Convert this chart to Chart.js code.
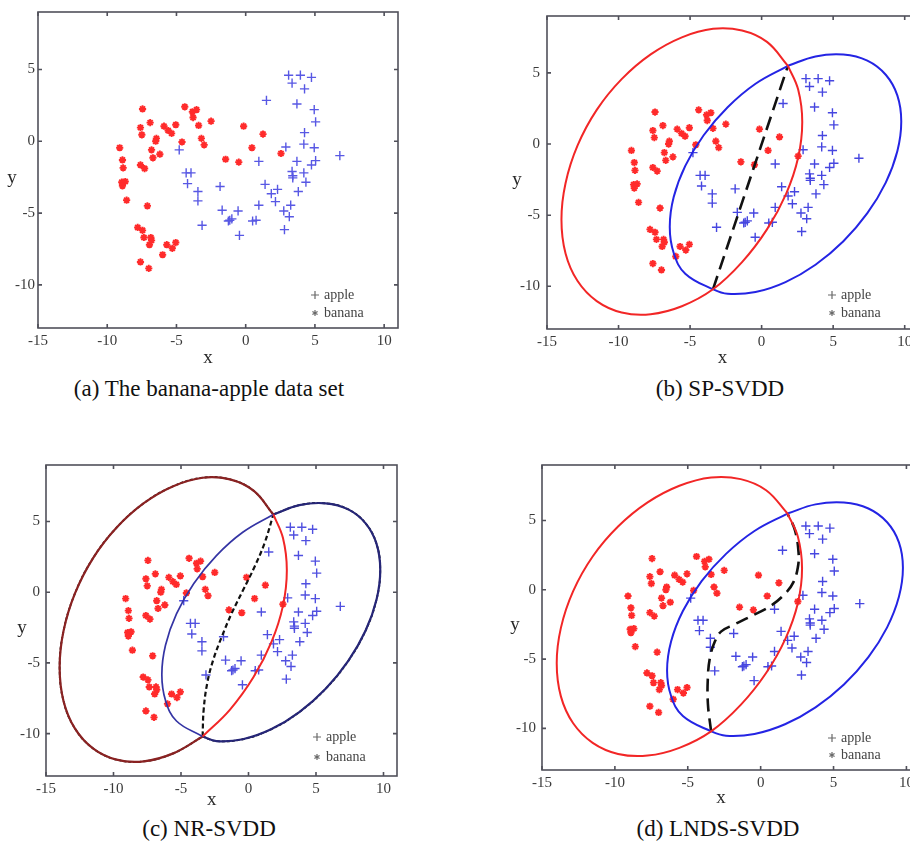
<!DOCTYPE html>
<html>
<head>
<meta charset="utf-8">
<script src="https://cdn.jsdelivr.net/npm/chart.js@4.4.0/dist/chart.umd.min.js"></script>
<style>
  html, body { margin: 0; padding: 0; background: #fff; overflow: hidden; }
  body { width: 910px; height: 843px; position: relative; }
  canvas { position: absolute; }
  .cap { position: absolute; font-family: "Liberation Serif", serif; font-size: 23px; color: #111;
         transform: translateX(-50%); white-space: nowrap; line-height: 1; }
</style>
</head>
<body>
<canvas id="ca" width="455" height="375" style="left:0;top:0"></canvas>
<canvas id="cb" width="480" height="375" style="left:455px;top:0"></canvas>
<canvas id="cc" width="455" height="365" style="left:0;top:450px"></canvas>
<canvas id="cd" width="480" height="365" style="left:455px;top:450px"></canvas>
<div class="cap" id="capa" style="left:209px;top:377px"></div>
<div class="cap" id="capb" style="left:720px;top:377px"></div>
<div class="cap" id="capc" style="left:209px;top:817px"></div>
<div class="cap" id="capd" style="left:718px;top:817px"></div>
<script>
// axis ticks
const xTicks = [-15, -10, -5, 0, 5, 10];
const xTickLabels = ['-15', '-10', '-5', '0', '5', '10'];
const yTicks = [-10, -5, 0, 5];
const yTickLabels = ['-10', '-5', '0', '5'];
const legendLabels = ['apple', 'banana'];
const captions = ['(a) The banana-apple data set', '(b) SP-SVDD', '(c) NR-SVDD', '(d) LNDS-SVDD'];

// banana (red *) samples
const bananaPts = [
  [-9.1,-0.45],[-8.9,-1.3],[-8.85,-1.85],[-8.95,-2.85],[-8.7,-2.8],[-8.9,-3.1],[-8.6,-4.1],
  [-7.45,2.25],[-7.6,0.95],[-7.5,0.45],[-7.6,-1.65],[-7.3,-1.9],
  [-6.9,1.3],[-6.45,0.2],[-6.5,0],[-6.8,-0.6],[-6.7,-1.15],[-6.2,-0.9],
  [-5.9,1.05],[-5.6,0.75],[-5.35,0.55],[-5.05,1.15],[-4.6,-0.05],
  [-4.4,2.4],[-3.85,2.05],[-3.55,2.2],[-3.8,1.65],[-3.4,1.1],[-3.2,0.2],[-3.0,-0.25],[-2.5,1.4],
  [-1.45,-1.25],[-0.5,-1.45],[-0.15,1.05],[0.45,-0.45],[1.25,0.5],[2.55,-0.85],
  [-7.1,-4.5],[-7.8,-6.0],[-7.45,-6.2],[-7.35,-6.7],[-6.85,-6.7],[-6.8,-6.9],[-6.95,-7.2],
  [-5.7,-7.2],[-5.3,-7.45],[-5.05,-7.05],[-6.0,-7.9],[-7.6,-8.4],[-7.0,-8.85]
];

// apple (blue +) samples
const applePts = [
  [-4.8,-0.6],[-4.3,-2.2],[-3.95,-2.2],[-4.2,-2.95],[-3.45,-3.5],[-3.45,-4.15],[-3.15,-5.85],
  [-1.85,-3.15],[-1.7,-4.8],[-1.25,-5.55],[-1.15,-5.5],[-1.0,-5.4],[-0.55,-4.85],[-0.45,-6.55],
  [0.5,-5.55],[0.75,-5.5],[0.95,-4.45],[0.95,-1.4],[1.4,-3.0],[1.5,2.85],[1.85,-3.65],[2.15,-4.2],
  [2.3,-3.35],[2.75,-4.85],[2.8,-6.15],[2.9,-0.4],[3.15,-5.25],[3.25,-4.45],[3.35,-2.1],[3.4,-2.4],
  [3.4,-2.55],[3.7,-1.4],[3.8,-3.5],
  [3.1,4.6],[3.35,4.05],[3.95,4.6],[3.7,2.6],[4.25,3.65],[4.25,0.6],[4.2,-0.2],[4.2,-2.2],[4.35,-2.85],
  [4.75,4.45],[4.95,2.2],[5.05,1.35],[4.95,-0.45],[4.75,-1.65],[5.05,-1.35],[6.8,-1.0]
];

// where the two spheres cross
const lowerCross = [-3.4, -10.21];

// banana sphere, from the upper crossing, counter-clockwise
const redEllipse = [
  [1.84,5.5],[0.374,7.18],[-1.368,7.98],[-3.396,8.1],[-5.575,7.5],[-7.754,6.3],[-9.783,4.56],
  [-11.524,2.4],[-12.862,-0.1],[-13.704,-2.75],[-13.99,-5.3],[-13.704,-7.69],[-12.862,-9.63],
  [-11.524,-11.04],[-9.783,-11.84],[-7.754,-11.96],[-5.575,-11.4],[-3.4,-10.21],[-1.368,-8.3],
  [0.374,-6.0],[1.712,-3.5],[2.554,-0.95],[2.84,1.55],[2.554,3.83],[1.84,5.5]
];

// apple sphere, from the upper crossing, counter-clockwise
const blueEllipse = [
  [1.84,5.5],[-0.425,4.24],[-2.375,2.59],[-4.05,0.62],[-5.336,-1.53],[-6.145,-3.73],[-6.42,-5.82],
  [-6.145,-7.66],[-5.336,-9.11],[-3.4,-10.21],[-2.375,-10.53],[-0.425,-10.4],[1.67,-9.7],
  [3.765,-8.48],[5.715,-6.83],[7.39,-4.86],[8.676,-2.71],[9.485,-0.51],[9.76,1.58],[9.485,3.42],
  [8.676,4.87],[7.39,5.86],[5.715,6.29],[3.765,6.16],[1.84,5.5]
];

// decision boundaries
const spBoundary = [[-3.4,-10.21],[1.84,5.5]];
const nrBoundary = [
  [-3.4,-10.21],[-3.32,-8.3],[-3.05,-6.4],[-2.6,-4.75],[-1.98,-3.15],[-1.25,-1.5],
  [-0.4,0.15],[0.45,1.8],[1.2,3.5],[1.84,5.5]
];
const lndsBoundary = [
  [-3.4,-10.21],[-3.62,-8.2],[-3.62,-6.3],[-3.48,-4.9],[-3.15,-3.75],[-2.7,-3.0],
  [-1.8,-2.5],[-0.65,-1.9],[0.7,-1.15],[1.75,-0.2],[2.25,0.55],[2.55,1.6],[2.6,2.7],
  [2.35,4.3],[1.84,5.5]
];

const toXY = list => list.map(p => ({ x: p[0], y: p[1] }));
const sameP = p => p[0] === lowerCross[0] && p[1] === lowerCross[1];
const lowR = redEllipse.findIndex(sameP);
const lowB = blueEllipse.findIndex(sameP);

const RED = '#f22626';
const BLUE = '#2424e4';

function appleSet(color) {
  return { data: toXY(applePts), showLine: false, pointStyle: 'cross', pointRadius: 4.6,
           borderColor: color, borderWidth: 1.4 };
}
function bananaSet() {
  return { data: toXY(bananaPts), showLine: false, pointStyle: 'star', pointRadius: 3.6,
           borderColor: '#ff2b2b', borderWidth: 1.9 };
}
function curve(list, color, width, dash, tension) {
  return { data: toXY(list), showLine: true, pointRadius: 0, borderColor: color,
           borderWidth: width, borderDash: dash || [], tension: tension, fill: false };
}

// frame, inward ticks, axis titles and legend
const framePlugin = {
  id: 'frame',
  afterDraw(chart, args, o) {
    const { ctx, chartArea: a } = chart;
    const xs = chart.scales.x, ys = chart.scales.y;
    ctx.save();
    ctx.strokeStyle = '#50505a';
    ctx.lineWidth = 1.6;
    ctx.strokeRect(a.left, a.top, a.right - a.left, a.bottom - a.top);
    ctx.beginPath();
    xTicks.forEach(v => {
      const px = xs.getPixelForValue(v);
      ctx.moveTo(px, a.bottom); ctx.lineTo(px, a.bottom - 4);
      ctx.moveTo(px, a.top); ctx.lineTo(px, a.top + 4);
    });
    yTicks.forEach(v => {
      const py = ys.getPixelForValue(v);
      ctx.moveTo(a.left, py); ctx.lineTo(a.left + 4, py);
      ctx.moveTo(a.right, py); ctx.lineTo(a.right - 4, py);
    });
    ctx.stroke();

    ctx.fillStyle = '#2a2a2a';
    ctx.font = '19px "Liberation Serif"';
    ctx.textAlign = 'center';
    ctx.textBaseline = 'middle';
    ctx.fillText('x', a.left + 0.472 * (a.right - a.left), a.bottom + o.xGap);
    ctx.fillText('y', a.left - o.yGap, a.top + 0.525 * (a.bottom - a.top));

    // legend
    const mx = a.right - o.lx;
    const r1 = a.bottom - o.r1, r2 = a.bottom - o.r2;
    ctx.strokeStyle = '#6a6a6a';
    ctx.lineWidth = 1.2;
    ctx.beginPath();
    ctx.moveTo(mx - 4, r1); ctx.lineTo(mx + 4, r1);
    ctx.moveTo(mx, r1 - 4); ctx.lineTo(mx, r1 + 4);
    for (let k = 0; k < 3; k++) {
      const ang = Math.PI / 2 + k * Math.PI / 3;
      ctx.moveTo(mx - 3 * Math.cos(ang), r2 - 3 * Math.sin(ang));
      ctx.lineTo(mx + 3 * Math.cos(ang), r2 + 3 * Math.sin(ang));
    }
    ctx.stroke();
    ctx.fillStyle = '#444';
    ctx.font = '14px "Liberation Serif"';
    ctx.textAlign = 'left';
    ctx.fillText(legendLabels[0], mx + 9, r1);
    ctx.fillText(legendLabels[1], mx + 9, r2);
    ctx.restore();
  }
};

function makeChart(id, datasets, L) {
  return new Chart(document.getElementById(id), {
    type: 'scatter',
    data: { datasets: datasets },
    options: {
      responsive: false,
      animation: false,
      events: [],
      devicePixelRatio: 1,
      layout: { padding: { left: 0, top: L.pt, right: L.pr, bottom: 0 } },
      plugins: { legend: { display: false }, tooltip: { enabled: false }, frame: L.frame },
      scales: {
        x: {
          type: 'linear', min: -15, max: 11,
          afterBuildTicks: s => { s.ticks = xTicks.map(v => ({ value: v })); },
          afterFit: s => { s.height = L.xh; },
          grid: { display: false, drawTicks: false },
          border: { display: false },
          ticks: { color: '#3a3a3a', padding: 4, font: { family: 'Liberation Serif', size: 15 },
                   callback: (v, i) => xTickLabels[i] }
        },
        y: {
          type: 'linear', min: -13, max: 9,
          afterBuildTicks: s => { s.ticks = yTicks.map(v => ({ value: v })); },
          afterFit: s => { s.width = L.yw; },
          grid: { display: false, drawTicks: false },
          border: { display: false },
          ticks: { color: '#3a3a3a', padding: L.yp, font: { family: 'Liberation Serif', size: 15 },
                   callback: (v, i) => yTickLabels[i] }
        }
      }
    },
    plugins: [framePlugin]
  });
}

// (a) data set only
makeChart('ca', [appleSet('#5858e4'), bananaSet()],
  { pt: 9, pr: 57, xh: 47, yw: 38, yp: 3, frame: { xGap: 30, yGap: 26, lx: 83, r1: 33, r2: 15 } });

// (b) SP-SVDD
makeChart('cb', [
  curve(redEllipse, RED, 2, null, 0.4),
  curve(blueEllipse, BLUE, 2, null, 0.4),
  curve(spBoundary, '#111', 2.6, [14, 7], 0),
  appleSet('#4646e0'), bananaSet()
], { pt: 9, pr: 16, xh: 46, yw: 92, yp: 7, frame: { xGap: 29, yGap: 30, lx: 87, r1: 34, r2: 16 } });

// (c) NR-SVDD
makeChart('cc', [
  curve(redEllipse.slice(lowR), RED, 2, null, 0.4),
  curve(blueEllipse.slice(0, lowB + 1), '#3434a4', 1.7, null, 0.4),
  curve(redEllipse.slice(0, lowR + 1), '#8a2222', 2.2, null, 0.4),
  curve(redEllipse.slice(0, lowR + 1), '#151515', 1.8, [3, 2], 0.4),
  curve(blueEllipse.slice(lowB), '#262678', 2.2, null, 0.4),
  curve(blueEllipse.slice(lowB), '#151515', 1.8, [3, 2], 0.4),
  curve(nrBoundary, '#111', 2.2, [5, 3], 0.4),
  appleSet('#5050e0'), bananaSet()
], { pt: 15, pr: 58, xh: 39, yw: 46, yp: 6, frame: { xGap: 24, yGap: 24, lx: 80, r1: 39, r2: 19 } });

// (d) LNDS-SVDD
makeChart('cd', [
  curve(redEllipse, RED, 2, null, 0.4),
  curve(blueEllipse, BLUE, 2, null, 0.4),
  curve(lndsBoundary, '#111', 2.6, [13, 7], 0.4),
  appleSet('#4646e0'), bananaSet()
], { pt: 10, pr: 14, xh: 45, yw: 87, yp: 6, frame: { xGap: 28, yGap: 27, lx: 89, r1: 32, r2: 15 } });

['capa', 'capb', 'capc', 'capd'].forEach((id, i) => {
  document.getElementById(id).textContent = captions[i];
});
</script>
</body>
</html>
